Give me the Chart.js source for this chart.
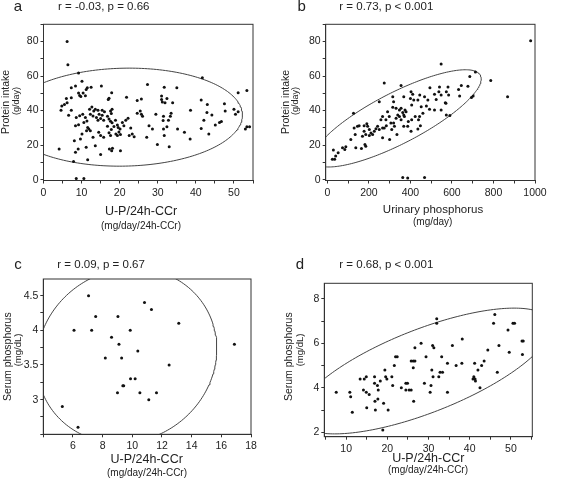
<!DOCTYPE html>
<html>
<head>
<meta charset="utf-8">
<script src="https://cdn.jsdelivr.net/npm/chart.js@4.4.1/dist/chart.umd.min.js"></script>
<style>
  html, body { margin: 0; padding: 0; background: #fff; }
  #wrap { position: relative; width: 567px; height: 480px; overflow: hidden; }
  canvas { position: absolute; }
</style>
</head>
<body>
<div id="wrap">
  <canvas id="chart-a" width="276" height="240" style="left:0;top:0;width:276px;height:240px"></canvas>
  <canvas id="chart-b" width="291" height="240" style="left:276px;top:0;width:291px;height:240px"></canvas>
  <canvas id="chart-c" width="276" height="240" style="left:0;top:240px;width:276px;height:240px"></canvas>
  <canvas id="chart-d" width="291" height="240" style="left:276px;top:240px;width:291px;height:240px"></canvas>
</div>
<script>
// panel a: protein intake vs U-P/24h-CCr
const pointsA = [
  [6.2,80],[6.4,66.6],[9.2,61.8],[10.1,57],[4.1,17.8],[7.9,10.5],[8.6,0.6],[10.6,0.6],
  [4.6,40.2],[4.8,42.7],[5.5,43.6],[6.2,44.6],[6,47],[7.3,47.5],[6.6,37.3],[7.3,40.2],[7.3,53.2],[8.4,54.2],
  [9.2,50.2],[9.5,48.8],[9.8,48.2],[10.4,50.2],[11,48.6],[11.2,52.2],[11.5,53.2],[12.5,53.6],[15.2,54.2],
  [8.4,31.2],[9.2,31.8],[10.6,33.1],[8.6,36],[9.5,37],[10.3,37.9],[11,36],[11.4,34],[11.6,30.2],
  [11.3,28.3],[11.9,29.3],[12.3,28.3],[10.1,26.4],[9.7,23.5],[8.1,22.6],[9.1,17.8],[8.4,15.9],[11.6,11.5],[11.2,18.8],[13,24.5],
  [12.1,40.8],[12.7,42.1],[13.2,39.8],[13.6,40.8],[14.3,40.2],[12.3,37.9],[13,36.9],[13.9,36],[14.6,37.9],[15.4,37.3],
  [14.3,34.4],[15,35.4],[15.8,34.4],[15,25.5],[15.8,24.5],[14.5,27.4],[15,14.5],[13.6,19.7],[15.4,40.2],[16,39.3],
  [17,46.5],[17.2,47.1],[17.9,50.3],[17.6,39.8],[18,40.8],[17.8,38.3],[16.8,36.7],[17.2,35.2],[17.6,33.9],[18,32.9],
  [16.8,31],[17.8,29.1],[17.2,27.2],[17.6,25.6],[18.5,30.8],[18.9,34.4],[19.4,31.6],[19.6,30.2],[17.3,17.8],[17.9,16.8],[18.1,18.2],
  [19,26.4],[19.4,25.5],[19.8,27.6],[20.2,26.2],[20.2,16.8],[20.7,33.1],[20.1,29.3],[21.1,31.2],
  [21.8,47.8],[21.6,34.4],[22.2,35.6],[22.5,25.5],[22.9,29.9],[24.6,45.9],[25.7,46.7],[24.6,38.5],[25.4,39.8],[25.7,37.9],[26,36.7],
  [23.3,26.4],[23.8,24.9],[27.3,55.1],[27.1,24.5],[27.7,31.2],[29.5,37.9],[28.6,29.3],[29.9,20.3],
  [31,46.5],[31.2,45],[31,48.4],[31.9,44.6],[32.4,47],[31.7,53.6],[33.9,44.6],
  [31.5,36.7],[31.4,34.2],[32.8,34.4],[33.3,36.7],[33.5,38.5],[31.5,29.3],[32.4,30.6],[31.7,25.5],[33,19.1],
  [35,53.2],[35.2,29.3],[37,27.4],[38.5,23.5],[38.6,40.2],[41.7,59],[41.4,46.1],[43,43.6],[42.1,34.4],[42.9,38.9],[44.2,37.5],
  [41.4,29.7],[43.4,26.4],[45.1,31.6],[46.2,33.1],[46.7,33.7],[47.5,44],[47.7,39.8],[50,40.8],[50.4,37.9],[51.1,39.4],
  [51.1,50.3],[53.4,51.7],[53,29.3],[53.4,30.6],[54.1,30.6]
];

// panel b: protein intake vs urinary phosphorus
const pointsB = [
  [979,80.4],[548,67],[713,62.3],[686,59.8],[787,57.5],[868,48],[274,56],[355,54.5],
  [632,52.2],[645,54.5],[677,54.1],[694,47.6],[702,48.4],[637,48.4],[540,53.7],[537,50.9],[581,53.7],[573,50.9],
  [584,49],[548,49],[516,49.5],[494,53.3],[524,46.5],[568,44.6],[548,40.4],[516,40.4],[573,37.5],[590,37.1],[571,44.2],
  [403,50.9],[411,49.5],[400,47],[416,46.1],[406,43.2],[436,46.1],[445,49],[452,42.3],[468,48],[484,46.1],[477,42.7],
  [492,40.8],[460,38.5],[444,36.6],[439,34.7],[448,31.2],[436,29.3],[406,34.7],[423,36.6],[390,33.7],[387,30.9],
  [250,45.1],[315,48],[319,45.1],[368,48],[331,41.3],[347,40.4],[355,41.3],[363,38.9],[368,37.5],[374,40.4],
  [339,37.5],[331,35.6],[315,41.9],[379,39.4],[371,36.6],[355,34.7],[347,36.6],[290,39.4],[298,36.6],[282,34.7],
  [306,32.8],[323,30.9],[310,29],[266,36.6],[258,34.7],[242,30.9],[234,29.5],[250,29],[266,29.9],[226,28],
  [210,27],[218,26.1],[202,29],[194,30.9],[190,32.4],[177,31.2],[185,26.1],[169,25.1],[177,28],[202,25.5],
  [274,29.9],[284,31.2],[335,26.1],[300,23.2],[266,24.2],[319,32.8],[368,30.9],[403,28],
  [126,38.5],[129,29.9],[134,26.1],[145,30.9],[153,31.2],[113,23.2],[164,18.1],[181,20.4],[185,19.4],[137,18.5],
  [73,18.5],[84,17.5],[89,19],[52,15.6],[29,17.1],[40,13.7],[24,11.8],[35,11.8],
  [363,1.3],[387,1],[468,1.3]
];

// panel c: serum phosphorus vs U-P/24h-CCr
const pointsC = [
  [7.05,4.5],[10.82,4.4],[11.29,4.3],[7.53,4.2],[9.03,4.2],[13.13,4.1],[6.07,4.0],[7.26,4.0],[9.86,4.0],
  [8.6,3.9],[9.1,3.8],[16.88,3.8],[10.37,3.7],[8.18,3.6],[9.28,3.6],[12.48,3.5],[9.88,3.3],[10.19,3.3],
  [9.36,3.2],[9.42,3.2],[9.0,3.1],[10.51,3.1],[11.63,3.1],[11.11,3.0],[5.28,2.9],[6.34,2.6]
];

// panel d: serum phosphorus vs U-P/24h-CCr
const pointsD = [
  [7.6,3.8],[10.9,3.8],[11.1,3.6],[11.5,2.9],[13.4,4.4],[14.4,4.4],[14.9,4.5],[14.2,3.9],[14.9,3.8],[15.6,3.7],
  [15.0,3.1],[16.9,4.5],[16.9,4.2],[17.6,4.1],[17.8,3.9],[18.3,4.3],[17.0,3.4],[17.1,3.0],[17.7,3.5],[19.1,3.3],
  [19.4,4.8],[19.6,4.5],[19.9,4.4],[20.2,3.0],[18.9,2.1],[21.3,4.1],[21.1,4.5],[21.7,5.0],[22.0,5.4],[22.4,5.4],
  [23.4,4.0],[24.5,4.2],[24.9,4.2],[24.5,3.9],[25.3,3.9],[25.8,3.9],[25.8,5.2],[26.3,5.2],[26.7,5.2],[26.3,4.9],
  [26.4,3.4],[26.7,5.8],[28.2,6.0],[29.4,5.4],[29.0,4.2],[30.4,3.8],[30.6,4.1],[30.8,4.8],[31.0,5.9],[31.3,5.8],
  [31.1,4.5],[32.0,7.1],[32.0,6.9],[32.5,4.5],[32.8,4.7],[33.4,4.7],[33.2,5.4],[34.6,5.1],[34.6,3.8],[35.8,5.9],
  [36.7,5.0],[38.2,6.2],[38.1,5.1],[40.8,4.4],[41.0,4.5],[41.3,4.4],[41.2,5.1],[41.4,4.3],[42.0,4.8],[42.5,4.0],
  [42.9,5.0],[43.5,5.2],[44.4,5.7],[45.8,6.9],[46.1,7.3],[46.7,4.7],[47.1,5.9],[49.3,6.6],[49.6,5.6],[50.5,6.9],
  [50.9,6.9],[52.7,6.1],[53.0,6.1],[52.8,5.5]
];

// ellipses: centre x, centre y, then two conjugate half-axes (ux, uy, vx, vy), in data units
const ellipseA = [21.2, 36.2, 31, 0, 1.3, 28.4];
const ellipseB = [336, 35.5, 405, 22.9, 0, 16.4];
const ellipseC = [9.625, 3.635, 6.05, 0, 0.473, 1.261];
const ellipseD = [29, 4.755, 30.8, 2.0, 0, 2.0];

// tick marks and the labelled subset
const ticksAX = [0, 5, 10, 15, 20, 25, 30, 35, 40, 45, 50, 55];
const labelsAX = [0, 10, 20, 30, 40, 50];
const ticksIntake = [0, 10, 20, 30, 40, 50, 60, 70, 80, 90];
const labelsIntake = [0, 20, 40, 60, 80];
const ticksBX = [0, 100, 200, 300, 400, 500, 600, 700, 800, 900, 1000];
const labelsBX = [0, 200, 400, 600, 800, 1000];
const ticksCX = [4, 6, 8, 10, 12, 14, 16, 18];
const labelsCX = [6, 8, 10, 12, 14, 16, 18];
const ticksCY = [2.5, 2.75, 3, 3.25, 3.5, 3.75, 4, 4.25, 4.5];
const labelsCY = [3, 3.5, 4, 4.5];
const ticksDX = [5, 10, 15, 20, 25, 30, 35, 40, 45, 50, 55];
const labelsDX = [10, 20, 30, 40, 50];
const ticksDY = [2, 3, 4, 5, 6, 7, 8];
const labelsDY = [2, 4, 6, 8];

const FONT = '"Liberation Sans", Arial, Helvetica, sans-serif';
Chart.defaults.font.family = FONT;
Chart.defaults.color = '#222';

function ellipsePoints(e) {
  const pts = [];
  for (let i = 0; i <= 240; i++) {
    const t = i / 240 * 2 * Math.PI;
    pts.push({
      x: e[0] + e[2] * Math.cos(t) + e[4] * Math.sin(t),
      y: e[1] + e[3] * Math.cos(t) + e[5] * Math.sin(t)
    });
  }
  return pts;
}

const textPlugin = {
  id: 'panelText',
  afterDraw(chart, args, opts) {
    const ctx = chart.ctx;
    (opts.items || []).forEach(it => {
      ctx.save();
      ctx.fillStyle = '#222';
      ctx.font = it.size + 'px ' + FONT;
      ctx.textAlign = it.align || 'center';
      ctx.textBaseline = 'middle';
      ctx.translate(it.x, it.y);
      if (it.rot) ctx.rotate(-Math.PI / 2);
      ctx.fillText(it.text, 0, 0);
      ctx.restore();
    });
  }
};

const framePlugin = {
  id: 'frame',
  afterDatasetsDraw(chart) {
    const a = chart.chartArea, ctx = chart.ctx;
    ctx.save();
    ctx.strokeStyle = '#333';
    ctx.lineWidth = 1;
    ctx.strokeRect(a.left, a.top, a.right - a.left, a.bottom - a.top);
    ctx.restore();
  }
};

function axis(o) {
  return {
    type: 'linear',
    min: o.min,
    max: o.max,
    afterFit: s => { if (o.width) s.width = o.width; if (o.height) s.height = o.height; },
    afterBuildTicks: s => { s.ticks = o.ticks.map(v => ({ value: v })); },
    ticks: {
      autoSkip: false,
      maxRotation: 0,
      padding: o.pad,
      font: { size: 10.5 },
      color: '#222',
      callback: v => o.labels.includes(v) ? String(v) : ''
    },
    grid: { drawOnChartArea: false, tickLength: 3, color: '#333' },
    border: { color: '#333', width: 1 }
  };
}

function panel(id, pts, ell, cfg) {
  return new Chart(document.getElementById(id), {
    type: 'scatter',
    data: {
      datasets: [
        {
          data: pts.map(p => ({ x: p[0], y: p[1] })),
          pointRadius: 1.5,
          pointBackgroundColor: '#111',
          pointBorderWidth: 0
        },
        {
          data: ellipsePoints(ell),
          showLine: true,
          pointRadius: 0,
          borderColor: '#444',
          borderWidth: 1,
          tension: 0
        }
      ]
    },
    options: {
      responsive: false,
      animation: false,
      layout: { padding: cfg.padding },
      plugins: {
        legend: { display: false },
        tooltip: { enabled: false },
        panelText: { items: cfg.texts }
      },
      scales: { x: axis(cfg.x), y: axis(cfg.y) }
    },
    plugins: [textPlugin, framePlugin]
  });
}

panel('chart-a', pointsA, ellipseA, {
  padding: { left: 0, top: 24.3, right: 23, bottom: 0 },
  x: { min: 0, max: 55, ticks: ticksAX, labels: labelsAX, height: 59.5, pad: 3 },
  y: { min: -0.5, max: 90, ticks: ticksIntake, labels: labelsIntake, width: 43.5, pad: 2 },
  texts: [
    { text: 'a', x: 18, y: 7, size: 15 },
    { text: 'r = -0.03, p = 0.66', x: 58, y: 7, size: 11.5, align: 'left' },
    { text: 'Protein intake', x: 6, y: 102, size: 10.5, rot: true },
    { text: '(g/day)', x: 16.5, y: 101, size: 9, rot: true },
    { text: 'U-P/24h-CCr', x: 141, y: 212, size: 12.5 },
    { text: '(mg/day/24h-CCr)', x: 141, y: 226, size: 10 }
  ]
});

panel('chart-b', pointsB, ellipseB, {
  padding: { left: 0, top: 24.3, right: 32, bottom: 0 },
  x: { min: -8, max: 1000, ticks: ticksBX, labels: labelsBX, height: 59.5, pad: 3 },
  y: { min: -0.5, max: 90, ticks: ticksIntake, labels: labelsIntake, width: 49.7, pad: 2 },
  texts: [
    { text: 'b', x: 25.7, y: 7, size: 15 },
    { text: 'r = 0.73, p < 0.001', x: 63.3, y: 7, size: 11.5, align: 'left' },
    { text: 'Protein intake', x: 9.7, y: 102, size: 10.5, rot: true },
    { text: '(g/day)', x: 20, y: 101, size: 9, rot: true },
    { text: 'Urinary phosphorus', x: 157, y: 210, size: 11.5 },
    { text: '(mg/day)', x: 156.7, y: 222, size: 10 }
  ]
});

panel('chart-c', pointsC, ellipseC, {
  padding: { left: 0, top: 39, right: 25, bottom: 0 },
  x: { min: 4, max: 18, ticks: ticksCX, labels: labelsCX, height: 45.7, pad: 3 },
  y: { min: 2.5, max: 4.74, ticks: ticksCY, labels: labelsCY, width: 43.3, pad: 2 },
  texts: [
    { text: 'c', x: 18, y: 25, size: 15 },
    { text: 'r = 0.09, p = 0.67', x: 57.3, y: 25, size: 11.5, align: 'left' },
    { text: 'Serum phosphorus', x: 8.3, y: 116.7, size: 10.5, rot: true },
    { text: '(mg/dL)', x: 18.5, y: 110, size: 9.5, rot: true },
    { text: 'U-P/24h-CCr', x: 146.7, y: 220, size: 12.5 },
    { text: '(mg/day/24h-CCr)', x: 147, y: 233.3, size: 10 }
  ]
});

panel('chart-d', pointsD, ellipseD, {
  padding: { left: 0, top: 43.3, right: 34.7, bottom: 0 },
  x: { min: 4.7, max: 55.2, ticks: ticksDX, labels: labelsDX, height: 43.3, pad: 3 },
  y: { min: 1.8, max: 8.7, ticks: ticksDY, labels: labelsDY, width: 48.3, pad: 2 },
  texts: [
    { text: 'd', x: 24, y: 25, size: 15 },
    { text: 'r = 0.68, p < 0.001', x: 63.3, y: 25, size: 11.5, align: 'left' },
    { text: 'Serum phosphorus', x: 13.3, y: 116.7, size: 10.5, rot: true },
    { text: '(mg/dL)', x: 24.7, y: 110, size: 9.5, rot: true },
    { text: 'U-P/24h-CCr', x: 152.3, y: 218.3, size: 12.5 },
    { text: '(mg/day/24h-CCr)', x: 152, y: 230, size: 10 }
  ]
});
</script>
</body>
</html>
